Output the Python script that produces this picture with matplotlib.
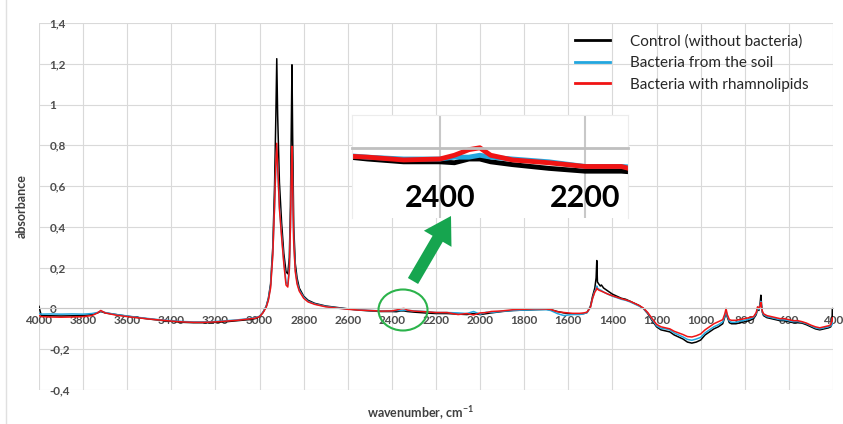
import numpy as np
import matplotlib
matplotlib.use('Agg')
import matplotlib.pyplot as plt
from matplotlib.patches import Ellipse, FancyArrowPatch
from matplotlib.lines import Line2D
from matplotlib.ticker import FuncFormatter, MultipleLocator

plt.rcParams['font.family'] = ['Lato', 'DejaVu Sans']
plt.rcParams['mathtext.fontset'] = 'custom'
plt.rcParams['mathtext.rm'] = 'Lato'

# ---------------- data ----------------
wavenumber = [
    4000, 3990, 3950, 3900, 3850, 3800, 3760, 3735, 3720, 3700,
    3650, 3600, 3550, 3500, 3450, 3400, 3350, 3300, 3250, 3200,
    3150, 3100, 3050, 3020, 3000, 2985, 2970, 2960, 2950, 2940,
    2932, 2926, 2922, 2918, 2910, 2900, 2890, 2880, 2872, 2865,
    2860, 2856, 2853, 2850, 2845, 2838, 2830, 2820, 2800, 2780,
    2750, 2700, 2650, 2600, 2550, 2500, 2450, 2400, 2380, 2360,
    2345, 2330, 2300, 2250, 2200, 2150, 2100, 2060, 2030, 2000,
    1970, 1950, 1900, 1850, 1800, 1750, 1700, 1680, 1650, 1620,
    1600, 1580, 1550, 1530, 1515, 1500, 1490, 1480, 1474, 1471,
    1468, 1462, 1455, 1450, 1440, 1420, 1400, 1380, 1360, 1340,
    1320, 1300, 1280, 1260, 1240, 1220, 1200, 1180, 1160, 1140,
    1120, 1100, 1080, 1060, 1040, 1020, 1000, 980, 960, 940,
    920, 900, 890, 885, 880, 870, 860, 840, 820, 800,
    780, 760, 748, 742, 736, 730, 727, 724, 720, 715,
    700, 680, 660, 640, 620, 600, 580, 560, 540, 520,
    500, 480, 460, 440, 420, 410, 405, 402, 400,
]

control = [
    0.01, -0.035, -0.036, -0.037, -0.036, -0.035, -0.03, -0.022, -0.015, -0.022,
    -0.03, -0.038, -0.045, -0.052, -0.058, -0.063, -0.068, -0.07, -0.07, -0.068,
    -0.065, -0.06, -0.055, -0.05, -0.04, -0.02, 0.01, 0.05, 0.12, 0.3,
    0.6, 0.95, 1.225, 0.95, 0.62, 0.42, 0.27, 0.18, 0.17, 0.25,
    0.5, 0.9, 1.195, 0.85, 0.4, 0.22, 0.15, 0.1, 0.06, 0.04,
    0.025, 0.012, 0.005, -0.002, -0.008, -0.012, -0.015, -0.015, -0.016, -0.012,
    -0.012, -0.015, -0.018, -0.022, -0.025, -0.025, -0.028, -0.03, -0.025, -0.03,
    -0.025, -0.022, -0.015, -0.01, -0.008, -0.006, -0.004, -0.006, -0.015, -0.022,
    -0.025, -0.028, -0.028, -0.025, -0.02, 0.01, 0.06, 0.1, 0.15, 0.235,
    0.13, 0.12, 0.11, 0.115, 0.1, 0.085, 0.07, 0.06, 0.05, 0.045,
    0.035, 0.025, 0.015, 0.0, -0.025, -0.06, -0.09, -0.105, -0.11, -0.115,
    -0.13, -0.14, -0.15, -0.165, -0.17, -0.165, -0.155, -0.13, -0.115, -0.1,
    -0.09, -0.075, -0.04, -0.015, -0.04, -0.07, -0.075, -0.075, -0.07, -0.065,
    -0.06, -0.05, -0.03, 0.0, -0.01, 0.03, 0.065, 0.02, -0.02, -0.035,
    -0.045, -0.05, -0.055, -0.06, -0.06, -0.065, -0.07, -0.07, -0.072, -0.08,
    -0.09, -0.1, -0.105, -0.1, -0.095, -0.09, -0.06, 0.0, -0.07,
]

soil = [
    -0.025, -0.028, -0.027, -0.028, -0.027, -0.028, -0.025, -0.02, -0.013, -0.02,
    -0.03, -0.037, -0.044, -0.05, -0.056, -0.06, -0.064, -0.066, -0.066, -0.064,
    -0.06, -0.056, -0.05, -0.046, -0.038, -0.02, 0.008, 0.045, 0.11, 0.27,
    0.5, 0.7, 0.8, 0.7, 0.5, 0.36, 0.23, 0.13, 0.115, 0.2,
    0.4, 0.65, 0.79, 0.6, 0.33, 0.19, 0.13, 0.09, 0.055, 0.035,
    0.022, 0.01, 0.003, -0.003, -0.007, -0.01, -0.012, -0.012, -0.01, -0.01,
    -0.008, -0.01, -0.012, -0.015, -0.02, -0.02, -0.022, -0.025, -0.015, -0.028,
    -0.018, -0.02, -0.014, -0.01, -0.008, -0.006, -0.006, -0.01, -0.025, -0.035,
    -0.032, -0.03, -0.03, -0.026, -0.02, 0.005, 0.05, 0.085, 0.095, 0.11,
    0.1, 0.095, 0.09, 0.088, 0.08, 0.07, 0.06, 0.053, 0.045, 0.04,
    0.032, 0.022, 0.012, 0.0, -0.022, -0.055, -0.085, -0.098, -0.1, -0.105,
    -0.12, -0.13, -0.14, -0.152, -0.156, -0.15, -0.142, -0.12, -0.105, -0.09,
    -0.08, -0.066, -0.035, -0.01, -0.035, -0.062, -0.068, -0.068, -0.062, -0.058,
    -0.052, -0.044, -0.025, 0.005, -0.005, 0.02, 0.035, 0.01, -0.018, -0.03,
    -0.04, -0.045, -0.05, -0.055, -0.056, -0.06, -0.065, -0.064, -0.068, -0.075,
    -0.085, -0.095, -0.1, -0.095, -0.09, -0.085, -0.075, -0.05, -0.08,
]

rhamno = [
    -0.035, -0.04, -0.042, -0.043, -0.042, -0.04, -0.035, -0.022, -0.01, -0.022,
    -0.033, -0.04, -0.046, -0.052, -0.057, -0.062, -0.066, -0.068, -0.068, -0.066,
    -0.062, -0.058, -0.052, -0.048, -0.04, -0.022, 0.005, 0.04, 0.1, 0.26,
    0.5, 0.72, 0.81, 0.7, 0.49, 0.35, 0.22, 0.115, 0.105, 0.19,
    0.4, 0.66, 0.795, 0.6, 0.32, 0.18, 0.12, 0.085, 0.05, 0.032,
    0.02, 0.008, 0.002, -0.004, -0.008, -0.01, -0.013, -0.012, -0.008, -0.002,
    0.0, -0.008, -0.013, -0.016, -0.02, -0.02, -0.03, -0.025, -0.032, -0.022,
    -0.02, -0.015, -0.012, -0.006, -0.004, -0.002, -0.003, -0.005, -0.016, -0.02,
    -0.022, -0.024, -0.024, -0.022, -0.018, 0.005, 0.05, 0.08, 0.09, 0.1,
    0.095, 0.09, 0.087, 0.085, 0.08, 0.07, 0.062, 0.055, 0.048, 0.042,
    0.035, 0.025, 0.015, 0.002, -0.02, -0.05, -0.078, -0.09, -0.095, -0.1,
    -0.112, -0.12, -0.128, -0.138, -0.14, -0.134, -0.125, -0.105, -0.09, -0.075,
    -0.065, -0.055, -0.025, 0.0, -0.028, -0.055, -0.058, -0.058, -0.054, -0.05,
    -0.045, -0.04, -0.02, 0.008, 0.0, 0.015, 0.03, 0.005, -0.015, -0.026,
    -0.035, -0.04, -0.045, -0.05, -0.05, -0.055, -0.06, -0.06, -0.065, -0.072,
    -0.082, -0.09, -0.095, -0.09, -0.085, -0.08, -0.06, -0.045, -0.06,
]

series = [
    ('Control (without bacteria)', control, '#000000'),
    ('Bacteria from the soil', soil, '#22a6de'),
    ('Bacteria with rhamnolipids', rhamno, '#f01414'),
]

inset_ticks = [2400, 2200]

# ---------------- figure ----------------
W, H = 843, 424
fig = plt.figure(figsize=(W / 100, H / 100), dpi=100)


def fx(px):
    return px / W


def fy(py):
    return 1 - py / H


grid_col = '#d9d9d9'
tick_col = '#4d4d4d'

ax = fig.add_axes([fx(39), fy(390), fx(833) - fx(39), fy(23) - fy(390)])
for name, vals, col in series:
    ax.plot(wavenumber, vals, color=col, lw=1.1, label=name)

ax.set_xlim(4000, 400)
ax.set_ylim(-0.4, 1.4)
ax.xaxis.set_major_locator(MultipleLocator(200))
ax.yaxis.set_major_locator(MultipleLocator(0.2))
ax.grid(True, color=grid_col, lw=0.8)
ax.set_axisbelow(True)
for s in ['top', 'right', 'left']:
    ax.spines[s].set_visible(False)
ax.spines['bottom'].set_position(('data', 0))
ax.spines['bottom'].set_color('#c8c8c8')
ax.spines['bottom'].set_linewidth(0.8)


def yfmt(v, pos):
    v = round(v, 1)
    if v == 0:
        return '0'
    return ('%g' % v).replace('.', ',')


ax.yaxis.set_major_formatter(FuncFormatter(yfmt))
ax.xaxis.set_major_formatter(FuncFormatter(lambda v, p: '%d' % v))
ax.tick_params(axis='x', length=0, pad=4.5, labelsize=8.5, labelcolor=tick_col)
ax.tick_params(axis='y', length=0, pad=-7.5, labelsize=8.5, labelcolor=tick_col)
for lab in ax.get_xticklabels() + ax.get_yticklabels():
    lab.set_fontweight('bold')
for lab in ax.get_yticklabels():
    lab.set_horizontalalignment('left')

fig.text(fx(22), fy(206), 'absorbance', rotation=90, ha='center', va='center',
         fontsize=9, fontweight='bold', color='#404040')
fig.text(fx(420), fy(413), r'wavenumber, cm$^{\mathregular{-1}}$', ha='center', va='center',
         fontsize=9, fontweight='bold', color='#404040')

handles = [Line2D([], [], color=c, lw=2) for _, _, c in series]
fig.legend(handles, [n for n, _, _ in series], loc='upper left',
           bbox_to_anchor=(fx(575), fy(34)), frameon=False, fontsize=11,
           handlelength=2.3, handletextpad=1.3, labelspacing=0.5,
           borderpad=0, borderaxespad=0, labelcolor='#262626')

# ---------------- inset zoom ----------------
axi = fig.add_axes([fx(352), fy(218), fx(628) - fx(352), fy(115) - fy(218)])
axi.set_facecolor('white')
for name, vals, col in series:
    axi.plot(wavenumber, vals, color=col, lw=3.5)
axi.set_xlim(2521, 2141)
axi.set_ylim(-0.075, 0.035)
axi.set_xticks(inset_ticks)
axi.set_yticks([])
axi.grid(True, axis='x', color='#c8c8c8', lw=1.5)
axi.set_axisbelow(True)
for s in ['top', 'right', 'left']:
    axi.spines[s].set_color('#ececec')
axi.spines['bottom'].set_position(('data', 0))
axi.spines['bottom'].set_color('#bfbfbf')
axi.spines['bottom'].set_linewidth(2)
axi.tick_params(axis='x', length=0, pad=26, labelsize=22)
for lab in axi.get_xticklabels():
    lab.set_fontweight('bold')

# ---------------- annotations ----------------
fig.patches.append(Ellipse((fx(403), fy(310)), fx(49), 41 / H, transform=fig.transFigure,
                           fill=False, ec='#2bb34b', lw=1.5))
fig.patches.append(FancyArrowPatch((fx(413), fy(281)), (fx(451), fy(216)),
                                   transform=fig.transFigure,
                                   arrowstyle='simple,head_length=1.9,head_width=2.3,tail_width=0.85',
                                   mutation_scale=10, shrinkA=0, shrinkB=0,
                                   color='#16a54f', lw=0))
fig.lines.append(Line2D([fx(6), fx(6)], [0, 1], transform=fig.transFigure,
                        color='#e0e0e0', lw=1))

fig.savefig('out.png', dpi=100)
